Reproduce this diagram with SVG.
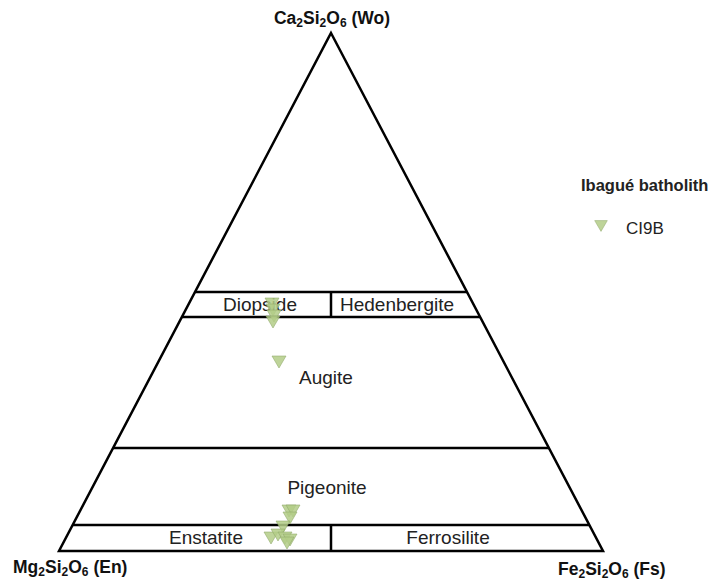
<svg xmlns="http://www.w3.org/2000/svg" width="716" height="580" viewBox="0 0 716 580">
<style>
.ln{stroke:#000;stroke-width:2.5;fill:none;stroke-linejoin:miter}
.lab{font-family:"Liberation Sans",Arial,sans-serif;font-size:19px;fill:#222}
.ax{font-family:"Liberation Sans",Arial,sans-serif;font-size:17.5px;font-weight:bold;fill:#111}
.sb{font-size:12px}
.mk{fill:#b3cc87;fill-opacity:0.85;stroke:#8fa86a;stroke-width:0.8;stroke-opacity:0.7}
</style>
<defs>
<path id="tri" d="M-7,-6 L7,-6 L0,6 Z"/>
</defs>
<rect width="716" height="580" fill="#fff"/>
<g id="connectors">
<path class="ln" d="M331,33 L603,551 L59,551 Z"/>
<line class="ln" x1="195" y1="292" x2="467" y2="292"/>
<line class="ln" x1="182" y1="317" x2="480" y2="317"/>
<line class="ln" x1="113" y1="448" x2="549" y2="448"/>
<line class="ln" x1="73" y1="525" x2="589" y2="525"/>
<line class="ln" x1="331" y1="292" x2="331" y2="317"/>
<line class="ln" x1="331" y1="525" x2="331" y2="551"/>
</g>
<g id="labels">
<text class="ax" x="332" y="24" text-anchor="middle">Ca<tspan class="sb" dy="3">2</tspan><tspan dy="-3">Si</tspan><tspan class="sb" dy="3">2</tspan><tspan dy="-3">O</tspan><tspan class="sb" dy="3">6</tspan><tspan dy="-3"> (Wo)</tspan></text>
<text class="ax" x="13" y="573">Mg<tspan class="sb" dy="3">2</tspan><tspan dy="-3">Si</tspan><tspan class="sb" dy="3">2</tspan><tspan dy="-3">O</tspan><tspan class="sb" dy="3">6</tspan><tspan dy="-3"> (En)</tspan></text>
<text class="ax" x="558" y="575">Fe<tspan class="sb" dy="3">2</tspan><tspan dy="-3">Si</tspan><tspan class="sb" dy="3">2</tspan><tspan dy="-3">O</tspan><tspan class="sb" dy="3">6</tspan><tspan dy="-3"> (Fs)</tspan></text>
<text class="lab" x="260" y="311" text-anchor="middle">Diopside</text>
<text class="lab" x="397" y="311" text-anchor="middle">Hedenbergite</text>
<text class="lab" x="326" y="384" text-anchor="middle">Augite</text>
<text class="lab" x="327" y="494" text-anchor="middle">Pigeonite</text>
<text class="lab" x="206" y="544" text-anchor="middle">Enstatite</text>
<text class="lab" x="448" y="544" text-anchor="middle">Ferrosilite</text>
</g>
<g id="legend">
<text x="581" y="191" font-family="Liberation Sans,Arial,sans-serif" font-size="16.5" font-weight="bold" fill="#222">Ibagué batholith</text>
<use href="#tri" class="mk" transform="translate(601,226) scale(0.9)"/>
<text class="lab" x="626" y="234" style="font-size:17px">CI9B</text>
</g>
<g id="data">
<use href="#tri" class="mk" x="272" y="304"/>
<use href="#tri" class="mk" x="273" y="310"/>
<use href="#tri" class="mk" x="274" y="316"/>
<use href="#tri" class="mk" x="273" y="322"/>
<use href="#tri" class="mk" x="279" y="362"/>
<use href="#tri" class="mk" x="289" y="511"/>
<use href="#tri" class="mk" x="293" y="511"/>
<use href="#tri" class="mk" x="290" y="518"/>
<use href="#tri" class="mk" x="283" y="527"/>
<use href="#tri" class="mk" x="271" y="538"/>
<use href="#tri" class="mk" x="278" y="535"/>
<use href="#tri" class="mk" x="285" y="538"/>
<use href="#tri" class="mk" x="290" y="540"/>
<use href="#tri" class="mk" x="287" y="543"/>
</g>
</svg>
